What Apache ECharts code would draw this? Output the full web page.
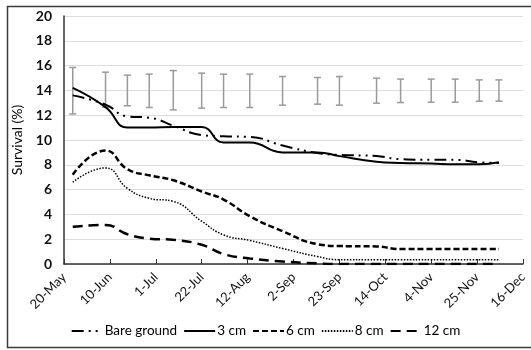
<!DOCTYPE html>
<html>
<head>
<meta charset="utf-8">
<script src="https://cdn.jsdelivr.net/npm/echarts@6/dist/echarts.min.js"></script>
<style>
  html, body { margin: 0; padding: 0; background: #fff; }
  #chart { width: 531px; height: 350px; }
</style>
</head>
<body>
<div id="chart"></div>
<script>
// days counted from 20-May
var tickLabels = ['20-May', '10-Jun', '1-Jul', '22-Jul', '12-Aug', '2-Sep', '23-Sep', '14-Oct', '4-Nov', '25-Nov', '16-Dec'];
var sampleDays = [4, 19, 29, 39, 50, 63, 73, 85, 100, 116, 126, 143, 154, 168, 179, 190, 199];

var bareGround = [13.6, 12.85, 11.9, 11.8, 11.15, 10.4, 10.3, 10.25, 9.55, 8.95, 8.8, 8.7, 8.45, 8.4, 8.4, 8.2, 8.15];
var cm3 = [14.2, 12.65, 11.0, 11.0, 11.05, 11.05, 9.8, 9.8, 9.0, 9.0, 8.7, 8.25, 8.15, 8.1, 8.05, 8.05, 8.2];
var cm6 = [7.2, 9.15, 7.65, 7.15, 6.75, 5.85, 5.2, 3.85, 2.65, 1.6, 1.45, 1.42, 1.2, 1.2, 1.2, 1.2, 1.2];
var cm8 = [6.6, 7.75, 6.1, 5.3, 5.05, 3.45, 2.35, 1.9, 1.25, 0.6, 0.35, 0.35, 0.35, 0.35, 0.35, 0.35, 0.35];
var cm12 = [3.0, 3.15, 2.4, 2.05, 1.95, 1.55, 0.8, 0.45, 0.2, 0.05, 0, 0, 0, 0, 0, 0, 0];

// error bars (upper / lower ends)
var errHigh = [15.85, 15.47, 15.23, 15.31, 15.6, 15.39, 15.31, 15.31, 15.12, 15.04, 15.12, 14.99, 14.91, 14.91, 14.91, 14.85, 14.85];
var errLow = [12.1, 12.65, 12.76, 12.62, 12.43, 12.57, 12.62, 12.62, 12.81, 12.89, 12.81, 12.97, 13.02, 13.05, 13.05, 13.13, 13.13];

function pairs(vals) {
    return sampleDays.map(function (d, i) { return [d, vals[i]]; });
}

var chart = echarts.init(document.getElementById('chart'));

function mkLine(name, vals, style) {
    return {
        type: 'line',
        name: name,
        data: pairs(vals),
        showSymbol: false,
        symbol: 'none',
        smooth: 0.5,
        z: 3,
        lineStyle: style,
        itemStyle: { color: '#000' }
    };
}

chart.setOption({
    animation: false,
    textStyle: { fontFamily: 'Lato, "Noto Sans", sans-serif' },
    graphic: [{
        type: 'rect',
        shape: { x: 7.5, y: 6.5, width: 540, height: 341 },
        style: { fill: null, stroke: '#3a3a3a', lineWidth: 1.5 },
        silent: true
    }],
    grid: { left: 64, right: 8, top: 16, bottom: 86 },
    legend: {
        bottom: 7,
        left: 'center',
        itemWidth: 31,
        itemHeight: 10,
        itemGap: 6,
        itemStyle: { opacity: 0 },
        textStyle: { fontSize: 13.5, color: '#000', padding: [0, 0, 0, -3] },
        data: ['Bare ground', '3 cm', '6 cm', '8 cm', '12 cm']
    },
    xAxis: {
        type: 'value',
        min: 0,
        max: 210,
        interval: 21,
        axisLine: { lineStyle: { color: '#333', width: 1.5 } },
        axisTick: { show: true, inside: true, length: 5, lineStyle: { color: '#333' } },
        splitLine: { show: false },
        axisLabel: {
            rotate: 45,
            fontSize: 13,
            color: '#111',
            margin: 11,
            formatter: function (v) { return tickLabels[Math.round(v / 21)]; }
        }
    },
    yAxis: {
        type: 'value',
        min: 0,
        max: 20,
        interval: 2,
        name: 'Survival (%)',
        nameLocation: 'middle',
        nameGap: 38,
        nameTextStyle: { fontSize: 14, color: '#000' },
        axisLine: { show: true, lineStyle: { color: '#333', width: 1.5 } },
        axisTick: { show: false },
        axisLabel: { fontSize: 14, color: '#111', fontWeight: 'bold', margin: 12 },
        splitLine: { lineStyle: { color: '#dcdcdc', width: 1.2 } }
    },
    series: [
        {
            type: 'custom',
            name: 'err',
            silent: true,
            z: 2,
            data: sampleDays.map(function (d, i) { return [d, errLow[i], errHigh[i]]; }),
            renderItem: function (params, api) {
                var lo = api.coord([api.value(0), api.value(1)]);
                var hi = api.coord([api.value(0), api.value(2)]);
                var w = 3.5;
                var st = { stroke: '#9a9a9a', lineWidth: 1.5 };
                return {
                    type: 'group',
                    children: [
                        { type: 'line', shape: { x1: hi[0], y1: hi[1], x2: lo[0], y2: lo[1] }, style: st },
                        { type: 'line', shape: { x1: hi[0] - w, y1: hi[1], x2: hi[0] + w, y2: hi[1] }, style: st },
                        { type: 'line', shape: { x1: lo[0] - w, y1: lo[1], x2: lo[0] + w, y2: lo[1] }, style: st }
                    ]
                };
            }
        },
        mkLine('Bare ground', bareGround, { color: '#000', width: 2, type: [12, 5, 2, 5, 2, 5] }),
        mkLine('3 cm', cm3, { color: '#000', width: 2, type: 'solid' }),
        mkLine('6 cm', cm6, { color: '#000', width: 2.5, type: [6, 3] }),
        mkLine('8 cm', cm8, { color: '#000', width: 1.5, type: [1.5, 1.5] }),
        mkLine('12 cm', cm12, { color: '#000', width: 2.5, type: [10, 6] })
    ]
});
</script>
</body>
</html>
